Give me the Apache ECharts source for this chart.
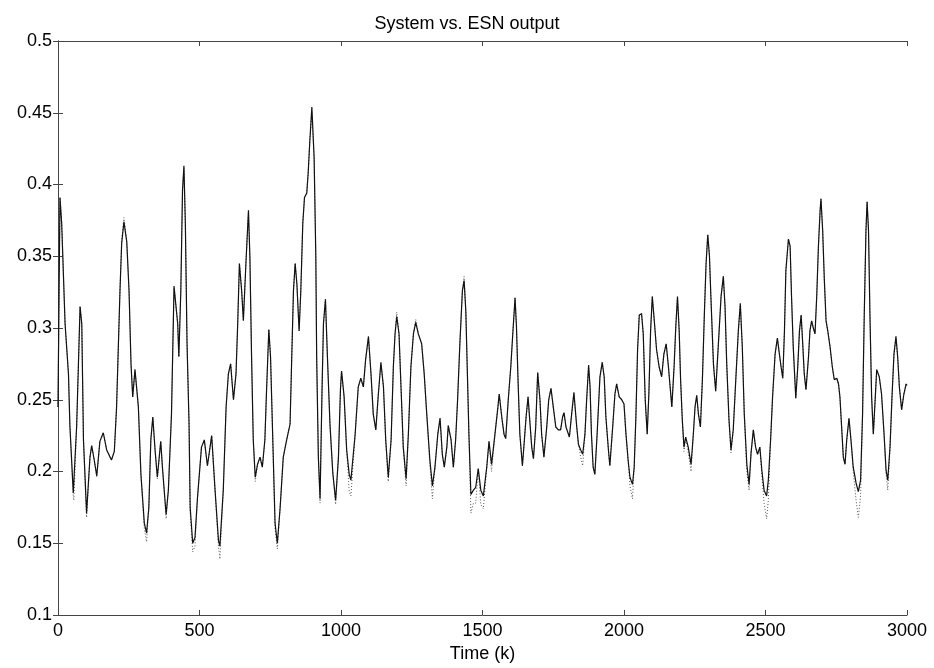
<!DOCTYPE html>
<html>
<head>
<meta charset="utf-8">
<script src="https://cdn.jsdelivr.net/npm/echarts@6/dist/echarts.min.js"></script>
<style>
html,body{margin:0;padding:0;background:#fff;}
#chart{width:934px;height:668px;}
</style>
</head>
<body>
<div id="chart"></div>
<script>
const titleText = "System vs. ESN output";
const xAxisName = "Time (k)";
const xTicks = [0, 500, 1000, 1500, 2000, 2500, 3000];
const yTicks = [0.1, 0.15, 0.2, 0.25, 0.3, 0.35, 0.4, 0.45, 0.5];

const time = [
0,4,7,13,25,37,42,54,56,66,78,84,90,101,113,119,128,137,148,160,
172,189,199,207,219,225,233,243,251,258,264,272,278,284,293,305,313,321,328,335,
343,351,363,369,382,390,401,410,416,423,427,434,440,445,450,456,463,467,476,484,
493,507,517,528,543,555,567,572,584,594,602,610,620,629,635,641,649,655,664,673,
678,684,690,697,705,714,722,731,737,745,751,759,767,775,785,796,808,820,826,832,
838,844,852,858,865,871,879,884,890,897,905,911,914,920,926,933,938,945,952,961,
971,981,991,998,1002,1011,1020,1029,1035,1050,1061,1070,1079,1087,1097,1106,1114,1123,1132,1141,
1150,1158,1167,1177,1185,1191,1197,1205,1212,1220,1230,1238,1247,1256,1264,1273,1285,1294,1303,1314,
1323,1332,1342,1350,1358,1365,1374,1379,1389,1397,1405,1412,1420,1429,1435,1441,1446,1452,1459,1468,
1476,1485,1494,1503,1515,1523,1532,1544,1554,1559,1568,1576,1582,1591,1600,1607,1615,1620,1626,1632,
1641,1648,1654,1661,1668,1674,1680,1688,1695,1703,1709,1717,1727,1734,1742,1750,1759,1768,1776,1783,
1788,1795,1807,1815,1823,1833,1839,1847,1854,1862,1868,1875,1880,1885,1891,1897,1905,1915,1923,1930,
1936,1945,1950,1960,1968,1974,1983,1992,2000,2007,2015,2021,2030,2036,2042,2048,2054,2062,2068,2075,
2082,2088,2094,2100,2107,2115,2124,2133,2141,2149,2157,2163,2169,2177,2183,2189,2195,2200,2206,2212,
2218,2227,2237,2245,2251,2257,2263,2270,2277,2284,2290,2296,2302,2307,2316,2324,2333,2343,2351,2357,
2363,2371,2378,2386,2395,2404,2411,2418,2425,2434,2442,2449,2457,2465,2472,2480,2488,2495,2504,2510,
2518,2525,2534,2542,2549,2555,2561,2567,2572,2581,2587,2592,2598,2607,2614,2620,2626,2631,2637,2643,
2652,2657,2663,2669,2675,2681,2687,2693,2696,2702,2708,2714,2720,2728,2736,2743,2752,2758,2763,2769,
2775,2781,2787,2795,2802,2810,2820,2828,2836,2843,2849,2855,2859,2864,2869,2875,2881,2888,2893,2902,
2910,2919,2926,2932,2940,2947,2954,2961,2967,2973,2981,2989,2997,3000
];

const system = [
0.245,0.33,0.391,0.373,0.303,0.268,0.232,0.185,0.184,0.232,0.315,0.303,0.222,0.171,0.21,0.218,0.208,0.197,0.221,0.227,
0.215,0.208,0.214,0.245,0.326,0.359,0.374,0.36,0.326,0.275,0.252,0.271,0.271,0.245,0.198,0.164,0.157,0.175,0.222,0.238,
0.215,0.196,0.221,0.203,0.170,0.187,0.240,0.329,0.317,0.303,0.28,0.326,0.396,0.413,0.373,0.289,0.234,0.175,0.150,0.154,
0.182,0.217,0.222,0.204,0.225,0.187,0.152,0.148,0.187,0.245,0.268,0.275,0.25,0.268,0.303,0.345,0.326,0.305,0.345,0.382,
0.350,0.280,0.222,0.196,0.205,0.21,0.203,0.222,0.257,0.299,0.280,0.222,0.164,0.150,0.175,0.21,0.222,0.233,0.28,0.326,
0.345,0.331,0.298,0.326,0.373,0.391,0.394,0.408,0.431,0.454,0.419,0.350,0.280,0.21,0.181,0.257,0.303,0.32,0.280,0.233,
0.199,0.18,0.21,0.257,0.27,0.252,0.215,0.198,0.194,0.226,0.259,0.265,0.259,0.278,0.294,0.268,0.240,0.229,0.254,0.276,
0.259,0.222,0.196,0.222,0.273,0.296,0.308,0.296,0.259,0.217,0.195,0.226,0.273,0.296,0.304,0.296,0.289,0.268,0.240,0.208,
0.190,0.203,0.226,0.237,0.212,0.203,0.217,0.232,0.222,0.203,0.222,0.250,0.289,0.326,0.333,0.312,0.273,0.226,0.184,0.187,
0.189,0.202,0.187,0.183,0.203,0.221,0.205,0.226,0.244,0.254,0.238,0.226,0.223,0.250,0.273,0.296,0.321,0.301,0.261,0.226,
0.204,0.222,0.238,0.252,0.233,0.217,0.209,0.231,0.269,0.250,0.226,0.21,0.231,0.250,0.258,0.245,0.231,0.229,0.229,0.238,
0.241,0.231,0.224,0.240,0.255,0.231,0.219,0.215,0.212,0.226,0.250,0.274,0.259,0.226,0.203,0.198,0.226,0.266,0.276,0.266,
0.238,0.215,0.204,0.231,0.254,0.261,0.252,0.25,0.247,0.226,0.207,0.196,0.191,0.203,0.238,0.285,0.309,0.310,0.296,0.250,
0.226,0.255,0.298,0.322,0.305,0.285,0.273,0.266,0.282,0.289,0.273,0.259,0.245,0.273,0.301,0.322,0.298,0.264,0.236,0.217,
0.224,0.217,0.205,0.226,0.245,0.253,0.240,0.231,0.264,0.310,0.345,0.365,0.350,0.322,0.275,0.256,0.287,0.322,0.336,0.315,
0.275,0.236,0.215,0.229,0.264,0.298,0.317,0.287,0.240,0.205,0.191,0.213,0.229,0.217,0.212,0.217,0.199,0.187,0.183,0.194,
0.222,0.252,0.282,0.293,0.282,0.273,0.265,0.298,0.340,0.362,0.357,0.322,0.287,0.251,0.273,0.298,0.309,0.291,0.268,0.257,
0.280,0.298,0.305,0.300,0.296,0.322,0.357,0.382,0.390,0.368,0.333,0.305,0.298,0.287,0.273,0.264,0.265,0.261,0.252,0.231,
0.210,0.205,0.222,0.237,0.222,0.203,0.192,0.186,0.194,0.240,0.310,0.368,0.388,0.368,0.310,0.252,0.226,0.252,0.271,0.266,
0.254,0.226,0.201,0.194,0.217,0.252,0.282,0.294,0.280,0.259,0.243,0.254,0.261,0.26
];

const esn = [
0.245,0.33,0.391,0.373,0.303,0.268,0.232,0.182,0.180,0.232,0.315,0.303,0.222,0.168,0.21,0.218,0.208,0.196,0.221,0.227,
0.215,0.208,0.214,0.245,0.326,0.361,0.377,0.36,0.326,0.275,0.252,0.271,0.271,0.245,0.198,0.160,0.151,0.175,0.222,0.238,
0.215,0.195,0.221,0.203,0.167,0.187,0.240,0.329,0.317,0.303,0.28,0.326,0.396,0.411,0.373,0.289,0.234,0.172,0.144,0.148,
0.182,0.217,0.222,0.204,0.225,0.187,0.148,0.139,0.187,0.245,0.268,0.275,0.25,0.268,0.303,0.345,0.326,0.305,0.345,0.380,
0.350,0.280,0.222,0.193,0.205,0.21,0.203,0.222,0.257,0.299,0.280,0.222,0.160,0.146,0.175,0.21,0.222,0.233,0.28,0.326,
0.345,0.331,0.298,0.326,0.373,0.391,0.394,0.408,0.431,0.450,0.419,0.350,0.280,0.21,0.178,0.257,0.303,0.32,0.280,0.233,
0.199,0.177,0.21,0.257,0.27,0.252,0.215,0.186,0.183,0.226,0.259,0.265,0.259,0.278,0.294,0.268,0.240,0.229,0.254,0.276,
0.259,0.222,0.193,0.222,0.273,0.296,0.311,0.296,0.259,0.217,0.190,0.226,0.273,0.296,0.306,0.296,0.289,0.268,0.240,0.205,
0.181,0.203,0.226,0.237,0.212,0.203,0.217,0.232,0.222,0.203,0.222,0.250,0.289,0.326,0.336,0.312,0.273,0.226,0.171,0.178,
0.178,0.202,0.177,0.174,0.203,0.221,0.200,0.226,0.244,0.254,0.238,0.226,0.223,0.250,0.273,0.296,0.321,0.301,0.261,0.226,
0.204,0.222,0.238,0.252,0.233,0.217,0.209,0.231,0.269,0.250,0.226,0.21,0.231,0.250,0.258,0.245,0.231,0.229,0.229,0.238,
0.241,0.231,0.224,0.240,0.255,0.231,0.219,0.210,0.204,0.226,0.250,0.274,0.259,0.226,0.203,0.198,0.226,0.266,0.276,0.266,
0.238,0.215,0.204,0.231,0.254,0.261,0.252,0.25,0.247,0.226,0.207,0.190,0.181,0.203,0.238,0.285,0.309,0.310,0.296,0.250,
0.226,0.255,0.298,0.322,0.305,0.285,0.273,0.266,0.282,0.289,0.273,0.259,0.245,0.273,0.301,0.322,0.298,0.264,0.236,0.214,
0.224,0.213,0.200,0.226,0.245,0.253,0.240,0.231,0.264,0.310,0.345,0.365,0.350,0.322,0.275,0.256,0.287,0.322,0.336,0.315,
0.275,0.236,0.213,0.229,0.264,0.298,0.317,0.287,0.240,0.200,0.187,0.213,0.229,0.217,0.212,0.217,0.195,0.178,0.167,0.180,
0.222,0.252,0.282,0.293,0.282,0.273,0.265,0.298,0.340,0.362,0.357,0.322,0.287,0.251,0.273,0.298,0.309,0.291,0.268,0.257,
0.280,0.298,0.305,0.300,0.296,0.322,0.357,0.382,0.390,0.368,0.333,0.305,0.298,0.287,0.273,0.264,0.265,0.261,0.252,0.231,
0.210,0.205,0.222,0.237,0.222,0.200,0.180,0.168,0.183,0.240,0.310,0.368,0.388,0.368,0.310,0.252,0.226,0.252,0.271,0.266,
0.254,0.226,0.198,0.187,0.217,0.252,0.282,0.294,0.280,0.259,0.243,0.254,0.261,0.26
];

const sysData = time.map((t, i) => [t, system[i]]);
const esnData = time.map((t, i) => [t, esn[i]]);

const FONT = "Liberation Sans";
const axisLine = { show: true, lineStyle: { color: '#444', width: 1 } };
const tickStyle = { show: true, inside: true, length: 5, lineStyle: { color: '#444', width: 1 } };

const chart = echarts.init(document.getElementById('chart'), null, { renderer: 'canvas' });
chart.setOption({
  animation: false,
  backgroundColor: '#ffffff',
  title: {
    text: titleText,
    left: 'center',
    top: 10,
    textStyle: { fontFamily: FONT, fontSize: 18, fontWeight: 'normal', color: '#000' }
  },
  grid: { left: 58, right: 27, top: 41, bottom: 53, containLabel: false },
  xAxis: [
    {
      type: 'value', min: 0, max: 3000, interval: 500, position: 'bottom',
      name: xAxisName, nameLocation: 'middle', nameGap: 28,
      nameTextStyle: { fontFamily: FONT, fontSize: 18, color: '#000' },
      axisLine: axisLine, axisTick: tickStyle,
      axisLabel: { fontFamily: FONT, fontSize: 18, color: '#000', margin: 7,
        customValues: xTicks, formatter: v => String(v) },
      splitLine: { show: false }
    },
    {
      type: 'value', min: 0, max: 3000, interval: 500, position: 'top',
      axisLine: axisLine, axisTick: tickStyle, axisLabel: { show: false }, splitLine: { show: false }
    }
  ],
  yAxis: [
    {
      type: 'value', min: 0.1, max: 0.5, interval: 0.05, position: 'left',
      axisLine: axisLine, axisTick: tickStyle,
      axisLabel: { fontFamily: FONT, fontSize: 18, color: '#000', margin: 6,
        formatter: v => String(parseFloat(v.toFixed(2))) },
      splitLine: { show: false }
    },
    {
      type: 'value', min: 0.1, max: 0.5, interval: 0.05, position: 'right',
      axisLine: axisLine, axisTick: tickStyle, axisLabel: { show: false }, splitLine: { show: false }
    }
  ],
  series: [
    {
      name: 'ESN output', type: 'line', data: esnData, showSymbol: false, symbol: 'none',
      lineStyle: { color: '#555', width: 1, type: [1, 2] }, z: 2
    },
    {
      name: 'System', type: 'line', data: sysData, showSymbol: false, symbol: 'none',
      lineStyle: { color: '#111', width: 1.2 }, z: 3
    }
  ]
});
</script>
</body>
</html>
